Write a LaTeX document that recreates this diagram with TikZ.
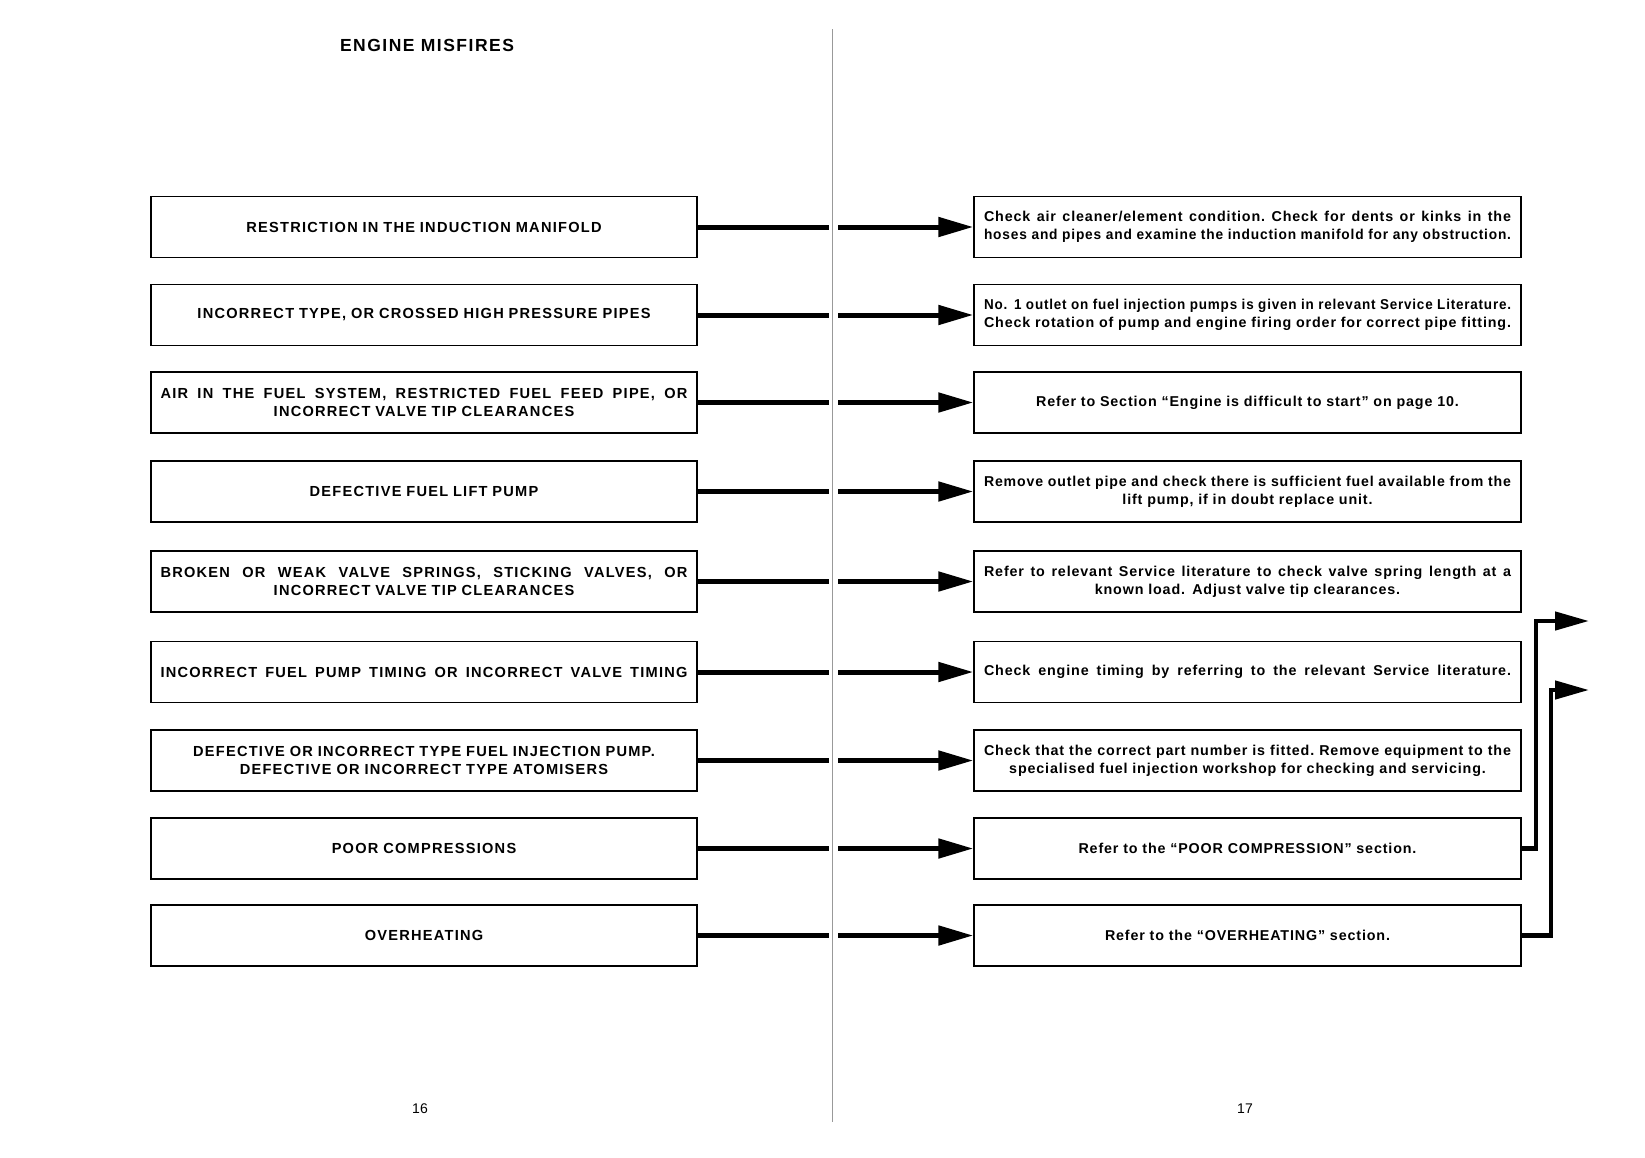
\documentclass[tikz,border=0pt]{standalone}
\usepackage{fontspec}
\usepackage{graphicx}
\setmainfont{Liberation Sans}
\newfontfamily\capsfont[LetterSpace=8.5]{Liberation Sans}
\newfontfamily\bodyfont[LetterSpace=6]{Liberation Sans}
\usetikzlibrary{arrows.meta}
\tikzset{
  lbox/.style={draw, line width=1.4pt, minimum width=546pt, minimum height=61pt, inner sep=0pt,
    align=center, text width=527pt, font=\capsfont\bfseries\fontsize{14.6}{18.5}\selectfont},
  rbox/.style={draw, line width=1.4pt, minimum width=547pt, minimum height=61pt, inner sep=0pt,
    align=center, text width=527pt, font=\bodyfont\bfseries\fontsize{14.3}{18}\selectfont},
  seg/.style={line width=5pt},
  flow/.style={line width=5pt, -{Triangle[length=35pt,width=19pt]}},
  outflow/.style={line width=4.5pt, -{Triangle[length=34pt,width=18pt]}},
  fold/.style={line width=0.7pt, draw=black!40},
  pagenum/.style={font=\fontsize{14}{16}\selectfont},
  titlestyle/.style={font=\capsfont\bfseries\fontsize{17.5}{20}\selectfont}
}
\newsavebox\lwbox
\newcommand{\LW}[1]{\sbox\lwbox{#1}%
  \ifdim\wd\lwbox>527pt
    \resizebox{527pt}{\ht\lwbox}{\usebox\lwbox}%
  \else
    {\spaceskip=0.3em plus 1fil\xspaceskip=0.3em plus 1fil\hbox to 527pt{#1}}%
  \fi}
\begin{document}
\begin{tikzpicture}[x=1pt,y=-1pt]
\useasboundingbox (0,0) rectangle (1645,1157);
% page fold
\coordinate (foldtop) at (832,29);
\coordinate (foldbot) at (832,1122);
\draw[fold] (foldtop) -- (foldbot);
\coordinate (foldL) at (829,0);
\coordinate (foldR) at (838,0);

\node[titlestyle] (title) at (427,45) {ENGINE MISFIRES};

% left boxes
\node[lbox] (l1) at (424,227) {RESTRICTION IN THE INDUCTION MANIFOLD};
\node[lbox] (l2) at (424,315) {INCORRECT TYPE, OR CROSSED HIGH PRESSURE PIPES};
\node[lbox] (l3) at (424,402.5) {\LW{AIR IN THE FUEL SYSTEM, RESTRICTED FUEL FEED PIPE, OR}\\INCORRECT VALVE TIP CLEARANCES};
\node[lbox] (l4) at (424,491.5) {DEFECTIVE FUEL LIFT PUMP};
\node[lbox] (l5) at (424,581.5) {\LW{BROKEN OR WEAK VALVE SPRINGS, STICKING VALVES, OR}\\INCORRECT VALVE TIP CLEARANCES};
\node[lbox] (l6) at (424,672) {\LW{INCORRECT FUEL PUMP TIMING OR INCORRECT VALVE TIMING}};
\node[lbox] (l7) at (424,760.5) {DEFECTIVE OR INCORRECT TYPE FUEL INJECTION PUMP.\\DEFECTIVE OR INCORRECT TYPE ATOMISERS};
\node[lbox] (l8) at (424,848.5) {POOR COMPRESSIONS};
\node[lbox] (l9) at (424,935.5) {OVERHEATING};

% right boxes
\node[rbox] (r1) at (1247.5,227) {\LW{Check air cleaner/element condition. Check for dents or kinks in the}\\\LW{hoses and pipes and examine the induction manifold for any obstruction.}};
\node[rbox] (r2) at (1247.5,315) {\LW{No. 1 outlet on fuel injection pumps is given in relevant Service Literature.}\\\LW{Check rotation of pump and engine firing order for correct pipe fitting.}};
\node[rbox] (r3) at (1247.5,402.5) {Refer to Section “Engine is difficult to start” on page 10.};
\node[rbox] (r4) at (1247.5,491.5) {\LW{Remove outlet pipe and check there is sufficient fuel available from the}\\lift pump, if in doubt replace unit.};
\node[rbox] (r5) at (1247.5,581.5) {\LW{Refer to relevant Service literature to check valve spring length at a}\\known load. Adjust valve tip clearances.};
\node[rbox] (r6) at (1247.5,672) {\raisebox{4pt}{\LW{Check engine timing by referring to the relevant Service literature.}}};
\node[rbox] (r7) at (1247.5,760.5) {\LW{Check that the correct part number is fitted. Remove equipment to the}\\specialised fuel injection workshop for checking and servicing.};
\node[rbox] (r8) at (1247.5,848.5) {Refer to the “POOR COMPRESSION” section.};
\node[rbox] (r9) at (1247.5,935.5) {Refer to the “OVERHEATING” section.};

% connectors across the fold
\foreach \i in {1,...,9}{
  \draw[seg] (l\i.east) -- (l\i.east -| foldL);
  \draw[flow] (l\i.east -| foldR) -- (r\i.west);
}

% onward arrows
\coordinate (out1) at (1589,621);
\coordinate (out2) at (1589,690);
\coordinate (turn1) at (1536,0);
\coordinate (turn2) at (1551,0);
\draw[outflow] (r8.east) -- (r8.east -| turn1) |- (out1);
\draw[outflow] (r9.east) -- (r9.east -| turn2) |- (out2);

\node[pagenum] (p16) at (420,1109) {16};
\node[pagenum] (p17) at (1245,1109) {17};
\end{tikzpicture}
\end{document}
